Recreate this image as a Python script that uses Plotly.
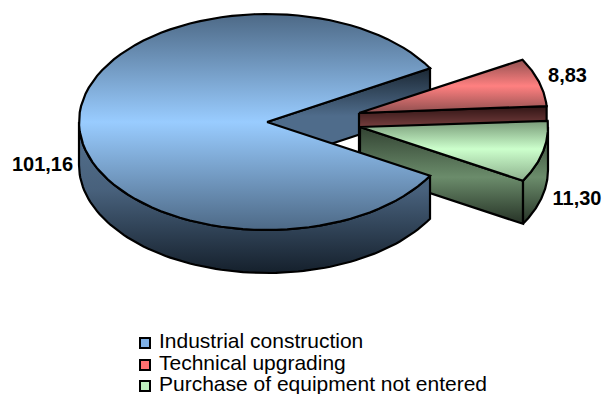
import numpy as np
import plotly.graph_objects as go

# Investment breakdown
categories = ["Industrial construction", "Technical upgrading", "Purchase of equipment not entered"]
values = [101.16, 8.83, 11.30]
value_labels = ["101,16", "8,83", "11,30"]

# Pie geometry in canvas pixels
W, H = 603, 394
RX, RY, DEPTH = 188, 108, 43
centers = [(267, 122), (359, 113), (360, 127)]
label_pos = [(42.5, 166), (567.5, 77), (577, 200)]
key_rows = [343, 365, 386]
key_marker_x, key_text_x = 145, 159

# Vertical gradients for each face: (y_start, y_stop, colorscale)
top_fill = [
    (14, 230, [[0, "#4d6986"], [0.5, "#99ccff"], [1, "#4d6986"]]),
    (59, 113, [[0, "#8f4f4f"], [0.5, "#ff8080"], [1, "#8f4f4f"]]),
    (118, 180, [[0, "#6f8f6f"], [0.5, "#ccffcc"], [1, "#8fb38f"]]),
]
side_fill = [
    (122, 273, [[0, "#55728f"], [0.45, "#48617c"], [1, "#15202c"]]),
    (105, 126, [[0, "#2c1212"], [1, "#733c3c"]]),
    (120, 224, [[0, "#2a382a"], [0.55, "#6b8c6b"], [1, "#263226"]]),
]
wedge_fill = (66, 166, [[0, "#18242f"], [0.5, "#4f6c8b"], [1, "#4f6c8b"]])
key_colors = ["#7fb0e6", "#ff7070", "#bff0bf"]


def arc(center, t0, t1, drop=0):
    t = np.radians(np.linspace(t0, t1, 90))
    return center[0] + RX * np.cos(t), center[1] - RY * np.sin(t) + drop


def face(fig, xs, ys, fill):
    y0, y1, scale = fill
    fig.add_trace(go.Scatter(
        x=np.append(xs, xs[0]), y=np.append(ys, ys[0]), mode="lines", fill="toself",
        line=dict(color="black", width=2.2), hoverinfo="skip", showlegend=False,
        fillgradient=dict(type="vertical", colorscale=scale, start=y0, stop=y1),
    ))


def radial(fig, center, t, fill):
    ex, ey = arc(center, t, t)
    xs = np.array([center[0], ex[0], ex[0], center[0]])
    ys = np.array([center[1], ey[0], ey[0] + DEPTH, center[1] + DEPTH])
    face(fig, xs, ys, fill)


def top(fig, center, t0, t1, fill):
    ax, ay = arc(center, t0, t1)
    face(fig, np.r_[center[0], ax], np.r_[center[1], ay], fill)


def rim(fig, center, t0, t1, fill):
    ax, ay = arc(center, t0, t1)
    bx, by = arc(center, t1, t0, DEPTH)
    face(fig, np.r_[ax, bx], np.r_[ay, by], fill)


# Slice angles from the values; the small slices straddle the +x direction
sweep = np.array(values) / sum(values) * 360
gap = (sweep[1] + sweep[2]) / 2
main_a, main_b = gap, 360 - gap
red_a, red_b = gap, gap - sweep[1]
green_a, green_b = red_b, -gap

fig = go.Figure()

# Back to front: wedge wall, red slice, green slice, main body
radial(fig, centers[0], main_a, wedge_fill)
radial(fig, centers[1], red_b, side_fill[1])
top(fig, centers[1], red_a, red_b, top_fill[1])
radial(fig, centers[2], green_b, side_fill[2])
rim(fig, centers[2], green_b, 0, side_fill[2])
top(fig, centers[2], green_a, green_b, top_fill[2])
rim(fig, centers[0], 180, main_b, side_fill[0])
top(fig, centers[0], main_a, main_b, top_fill[0])

fig.add_trace(go.Scatter(
    x=[p[0] for p in label_pos], y=[p[1] for p in label_pos], text=value_labels,
    mode="text", textposition="middle center", hoverinfo="skip", showlegend=False,
    textfont=dict(family="Liberation Sans", size=20, color="black", weight="bold"),
))

# Tightly stacked key under the pie
fig.add_trace(go.Scatter(
    x=[key_marker_x] * 3, y=key_rows, mode="markers", hoverinfo="skip", showlegend=False,
    marker=dict(symbol="square", size=10, color=key_colors, line=dict(color="black", width=2)),
))
fig.add_trace(go.Scatter(
    x=[key_text_x] * 3, y=key_rows, text=categories, mode="text", textposition="middle right",
    hoverinfo="skip", showlegend=False,
    textfont=dict(family="Liberation Sans", size=21, color="black"),
))

fig.update_layout(
    width=W, height=H, margin=dict(l=0, r=0, t=0, b=0),
    paper_bgcolor="white", plot_bgcolor="white",
    xaxis=dict(range=[0, W], visible=False, fixedrange=True),
    yaxis=dict(range=[H, 0], visible=False, fixedrange=True),
    showlegend=False,
)

fig.write_html("out.html", config={"displayModeBar": False})
